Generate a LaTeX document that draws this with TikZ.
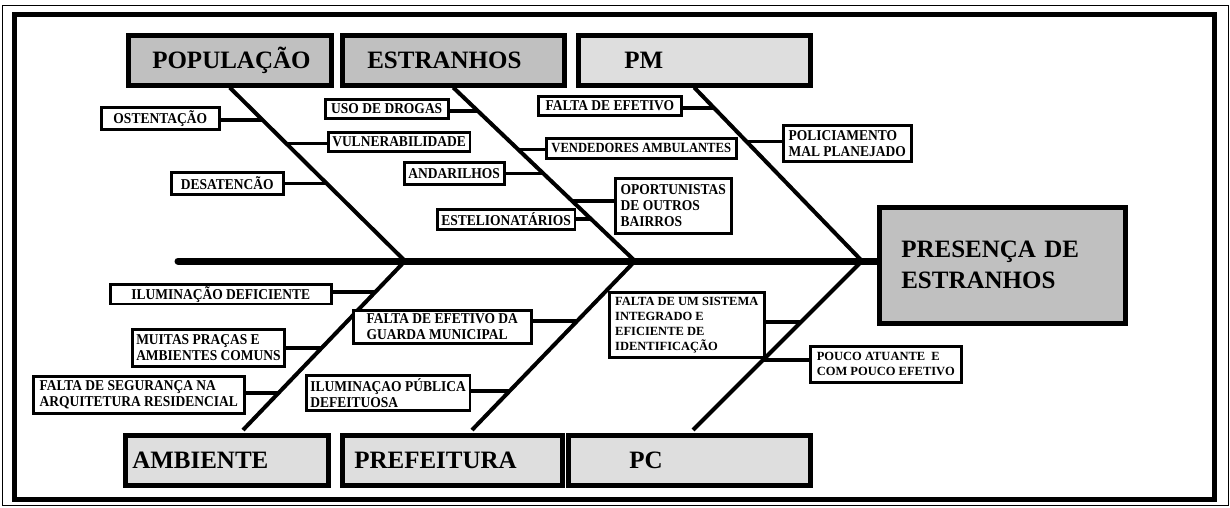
\documentclass[tikz,border=0pt]{standalone}
\usepackage{fontspec}
\setmainfont{Liberation Serif}
\newfontfamily\causefont[FakeStretch=0.9]{Liberation Serif}
\usetikzlibrary{positioning,calc}
\definecolor{catdark}{HTML}{C0C0C0}
\definecolor{catlight}{HTML}{DEDEDE}

\begin{document}
\begin{tikzpicture}[x=1pt, y=-1pt,
  cat/.style={draw, line width=4.5pt, anchor=north west, inner ysep=0pt, minimum height=50pt, align=left, font=\fontsize{25}{30}\selectfont\bfseries},
  effect/.style={draw, line width=4.5pt, fill=catdark, anchor=north west, inner xsep=22pt, text width=202pt, minimum height=116pt, align=left, font=\fontsize{25}{31}\selectfont\bfseries},
  cause/.style={draw, line width=2.5pt, fill=white, anchor=north west, inner xsep=4pt, inner ysep=2pt, align=left, font=\causefont\fontsize{15}{16}\selectfont\bfseries},
  small/.style={font=\causefont\fontsize{14}{15}\selectfont\bfseries},
  spine/.style={line width=7pt, line cap=round},
  bone/.style={line width=4pt},
  twig/.style={line width=3.5pt}
]
\useasboundingbox (0,0) rectangle (1230,507);
\draw[line width=1pt] (2,5) rectangle (1228,505);
\draw[line width=5pt] (14,14) rectangle (1214,499);

% categorias
\node[cat, fill=catdark, inner xsep=24pt, text width=155pt] (pop) at (126,33) {POPULAÇÃO};
\node[cat, fill=catdark, inner xsep=25pt, text width=172pt] (estr) at (340,33) {ESTRANHOS};
\node[cat, fill=catlight, inner xsep=46pt, text width=140pt] (pm) at (576,33) {PM};
\node[cat, fill=catlight, inner xsep=7pt, text width=189pt] (amb) at (123,433) {AMBIENTE};
\node[cat, fill=catlight, inner xsep=12pt, text width=196pt] (pref) at (340,433) {PREFEITURA};
\node[cat, fill=catlight, inner xsep=61pt, text width=120pt] (pc) at (566,433) {PC};
\node[effect] (pres) at (877,205) {PRESENÇA DE\\ESTRANHOS};

% espinha
\coordinate (tail) at (178,261);
\coordinate (j1) at (405,261);
\coordinate (j2) at (635,261);
\coordinate (j3) at (862,261);
\coordinate (eA) at (243,430);
\coordinate (eP) at (472,430);
\coordinate (eC) at (693,430);
\draw[spine] (tail) -- (j3 -| pres.west);
\draw[bone] (pop.south) -- (j1) -- (eA);
\draw[bone] (estr.south) -- (j2) -- (eP);
\draw[bone] (pm.south) -- (j3) -- (eC);

% causas
\node[cause, minimum width=118pt, minimum height=22pt] (ost) at (100,106) {OSTENTAÇÃO};
\node[cause, minimum width=140pt, minimum height=19pt] (vul) at (327,131) {VULNERABILIDADE};
\node[cause, minimum width=112pt, minimum height=22pt] (des) at (170,171) {DESATENCÃO};
\node[cause, minimum width=123pt, minimum height=19pt] (uso) at (324,98) {USO DE DROGAS};
\node[cause, small, minimum width=190pt, minimum height=20pt] (ven) at (545,137) {VENDEDORES AMBULANTES};
\node[cause, minimum width=100pt, minimum height=22pt] (and) at (403,161) {ANDARILHOS};
\node[cause, minimum width=116pt, minimum height=55pt] (opo) at (614,177) {OPORTUNISTAS\\DE OUTROS\\BAIRROS};
\node[cause, minimum width=129pt, minimum height=20pt] (est) at (436,208) {ESTELIONATÁRIOS};
\node[cause, minimum width=143pt, minimum height=19pt] (fal) at (537,95) {FALTA DE EFETIVO};
\node[cause, minimum width=128pt, minimum height=36pt] (pol) at (782,124) {POLICIAMENTO\\MAL PLANEJADO};
\node[cause, minimum width=221pt, minimum height=19pt] (ild) at (109,283) {ILUMINAÇÃO DEFICIENTE};
\node[cause, minimum width=152pt, minimum height=37pt] (mui) at (131,328) {MUITAS PRAÇAS E\\AMBIENTES COMUNS};
\node[cause, minimum width=211pt, minimum height=37pt] (fsg) at (32,375) {FALTA DE SEGURANÇA NA\\ARQUITETURA RESIDENCIAL};
\node[cause, minimum width=178pt, minimum height=33pt] (gua) at (352,309) {FALTA DE EFETIVO DA\\GUARDA MUNICIPAL};
\node[cause, minimum width=160pt, minimum height=35pt] (ilp) at (305,374) {ILUMINAÇAO PÚBLICA\\DEFEITUOSA};
\node[cause, minimum width=155pt, minimum height=65pt, font=\fontsize{12.5}{15}\selectfont\bfseries] (sis) at (608,291) {FALTA DE UM SISTEMA\\INTEGRADO E\\EFICIENTE DE\\IDENTIFICAÇÃO};
\node[cause, minimum width=151pt, minimum height=36pt, font=\fontsize{12.5}{15}\selectfont\bfseries] (pou) at (809,345) {POUCO ATUANTE~ E\\COM POUCO EFETIVO};

\coordinate (c1) at ($(pop.south)!0.186!(j1)$);
\coordinate (c2) at ($(pop.south)!0.322!(j1)$);
\coordinate (c3) at ($(pop.south)!0.554!(j1)$);
\coordinate (c4) at ($(estr.south)!0.136!(j2)$);
\coordinate (c5) at ($(estr.south)!0.356!(j2)$);
\coordinate (c6) at ($(estr.south)!0.497!(j2)$);
\coordinate (c7) at ($(estr.south)!0.655!(j2)$);
\coordinate (c8) at ($(estr.south)!0.757!(j2)$);
\coordinate (c9) at ($(pm.south)!0.119!(j3)$);
\coordinate (c10) at ($(pm.south)!0.311!(j3)$);
\coordinate (c11) at ($(j1)!0.183!(eA)$);
\coordinate (c12) at ($(j1)!0.515!(eA)$);
\coordinate (c13) at ($(j1)!0.781!(eA)$);
\coordinate (c14) at ($(j2)!0.355!(eP)$);
\coordinate (c15) at ($(j2)!0.769!(eP)$);
\coordinate (c16) at ($(j3)!0.361!(eC)$);
\coordinate (c17) at ($(j3)!0.586!(eC)$);

\draw[twig] (c1) -- (c1 -| ost.east);
\draw[twig] (c2) -- (c2 -| vul.west);
\draw[twig] (c3) -- (c3 -| des.east);
\draw[twig] (c4) -- (c4 -| uso.east);
\draw[twig] (c5) -- (c5 -| ven.west);
\draw[twig] (c6) -- (c6 -| and.east);
\draw[twig] (c7) -- (c7 -| opo.west);
\draw[twig] (c8) -- (c8 -| est.east);
\draw[twig] (c9) -- (c9 -| fal.east);
\draw[twig] (c10) -- (c10 -| pol.west);
\draw[twig] (c11) -- (c11 -| ild.east);
\draw[twig] (c12) -- (c12 -| mui.east);
\draw[twig] (c13) -- (c13 -| fsg.east);
\draw[twig] (c14) -- (c14 -| gua.east);
\draw[twig] (c15) -- (c15 -| ilp.east);
\draw[twig] (c16) -- (c16 -| sis.east);
\draw[twig] (c17) -- (c17 -| pou.west);
\end{tikzpicture}
\end{document}
